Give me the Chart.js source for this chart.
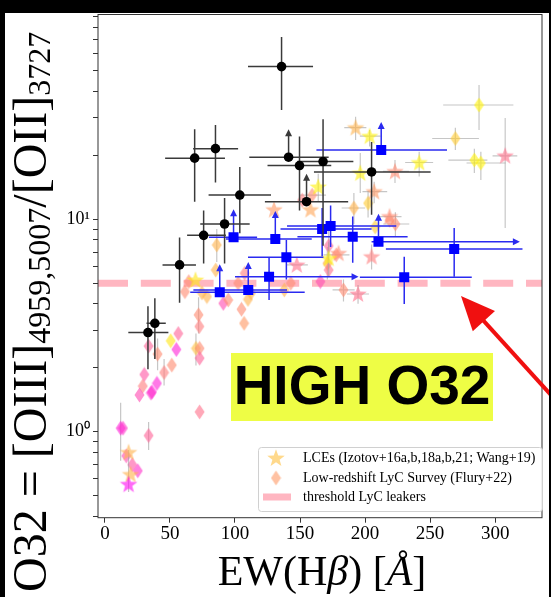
<!DOCTYPE html>
<html>
<head>
<meta charset="utf-8">
<script src="https://cdn.jsdelivr.net/npm/chart.js@4.4.1/dist/chart.umd.min.js"></script>
<style>
html, body { margin: 0; padding: 0; background: #fff; }
#wrap { position: relative; width: 551px; height: 597px; overflow: hidden; background: #fff; }
#c { position: absolute; left: 0; top: 0; }
.serif { position: absolute; font-family: "Liberation Serif", "Times New Roman", serif; color: #000; white-space: nowrap; }
#ytitle { left: -280px; top: 270px; width: 620px; height: 60px; line-height: 60px; font-size: 48px;
          transform: rotate(-90deg); padding-left: 18px; box-sizing: border-box; }
#ytitle .sub { font-size: 32px; line-height: 0; position: relative; top: 4px; }
#xtitle { left: 122px; top: 550px; width: 400px; text-align: center; font-size: 42px; line-height: 42px; }
#high { position: absolute; left: 231px; top: 353px; width: 262px; height: 68px; line-height: 68px;
        background: #eefd45; text-align: center; font: bold 55px "Liberation Sans", Arial, sans-serif; color: #000; }
.band { position: absolute; background: #000; }
</style>
</head>
<body>
<div id="wrap">
  <canvas id="c" width="551" height="597"></canvas>
  <div id="ytitle" class="serif">O32 = [OIII]<span class="sub">4959,5007</span>/[OII]<span class="sub">3727</span></div>
  <div id="xtitle" class="serif">EW(H<i>β</i>) [<i>Å</i>]</div>
  <div id="high">HIGH O32</div>
  <div class="band" style="left:0;top:0;width:551px;height:13px"></div>
  <div class="band" style="left:0;top:0;width:5px;height:597px"></div>
  <div class="band" style="left:549px;top:0;width:2px;height:597px"></div>
</div>
<script>
// axis ticks
const xTicks = [0, 50, 100, 150, 200, 250, 300];
const yTicks = [0.4, 0.5, 0.6, 0.7, 0.8, 0.9, 1, 2, 3, 4, 5, 6, 7, 8, 9, 10, 20, 30, 40, 50, 60, 70, 80, 90];
const threshold = 5;

// black circles
const blkX   = [135.8, 69, 85, 141.2, 149.6, 167.7, 205, 155, 103.7, 92, 75.9, 57.4, 38.4, 33.1];
const blkY   = [52.3, 19.4, 21.5, 19.6, 17.9, 18.7, 16.7, 12.1, 13.0, 9.5, 8.4, 6.1, 3.24, 2.93];
const blkXlo = [110, 46.3, 67.8, 111, 125, 148, 160.7, 123, 79.7, 73.3, 63.2, 44.3, 32, 18];
const blkXhi = [160, 92.3, 102.4, 172, 174, 191, 250.4, 187, 127.7, 111.3, 93, 70, 46.8, 48.8];
const blkYlo = [32.7, 12.1, 14.9, null, 11.0, 7.5, 10.5, null, 8.6, 6.2, 6.2, 4.05, 2.2, 1.97];
const blkYhi = [72, 26.5, 27.8, null, 24.5, 29.6, 23.1, null, 17.6, 12.6, 11, 8.2, 4.25, 3.9];
const blkUp  = [0, 0, 0, 1, 0, 0, 0, 1, 0, 0, 0, 0, 0, 0];

// blue squares
const bluX     = [212.4, 167, 173.5, 190.5, 210.3, 268.5, 230.1, 98.9, 131, 139.5, 126.2, 88.3, 110.2];
const bluY     = [21.2, 9.0, 9.3, 8.28, 7.83, 7.25, 5.33, 8.23, 8.07, 6.62, 5.37, 4.53, 4.65];
const bluXlo   = [162.6, 135, 140, 148, 205, 216, 196, 80, 93, 110, 100, 65.6, 68];
const bluXhi   = [263, 205, 224, 232.7, 319, 321, 282, 117, 159, 168, 195, 153.6, 140];
const bluYlo   = [null, 6.7, 7.4, 6.25, null, 5.36, 3.99, null, null, 5.2, 4.17, null, null];
const bluYhi   = [null, 11.3, 11.6, 10.3, null, 9.1, 6.67, null, null, 7.98, 6.62, null, null];
const bluUp    = [1, 0, 0, 0, 1, 0, 0, 1, 1, 0, 0, 1, 1];
const bluRight = [0, 0, 0, 0, 1, 0, 0, 0, 0, 0, 1, 0, 0];

// LCEs (stars); lceC = colour variable (1 yellow .. 0 magenta)
const lceX   = [192.7, 203.5, 241.6, 307.7, 223, 196.3, 207, 164, 158, 147.5, 205, 179.6, 172, 218.8, 194.6, 130, 69.6, 18.2, 19.7, 18.2];
const lceY   = [27.0, 24.6, 18.5, 19.9, 16.8, 16.5, 13.5, 14.2, 11.1, 6.1, 6.67, 6.92, 6.55, 10.3, 4.45, 11.1, 5.18, 0.80, 0.63, 0.566];
const lceC   = [0.7, 0.95, 0.95, 0.45, 0.55, 0.95, 0.6, 0.95, 0.65, 0.45, 0.5, 0.55, 0.95, 0.55, 0.45, 0.6, 0.9, 0.7, 0.7, 0.05];
const lceXlo = [184, 196, 230.8, 298, 213.7, null, 198, null, null, 140, null, null, null, 210, 186, null, null, null, null, null];
const lceXhi = [201, 212, 252.3, 317, 233.7, null, 217, null, null, 156, null, null, null, 228, 203, null, null, null, null, null];
const lceYlo = [23.6, 22.0, 15.9, 9.1, 14.8, 13.3, 11.9, 12.2, null, null, 5.8, null, 5.4, null, 4.0, null, null, 0.52, null, null];
const lceYhi = [30.4, 26.3, 20.8, 30, 19, 20.5, 15, 16.4, null, null, 7.6, null, 7.8, null, 4.9, null, null, 0.82, null, null];

// Flury+22 (diamonds)
const lzX = [287.6, 269.4, 284, 289, 191.4, 202.3, 159.3, 151.7, 223.3, 218.9, 207.7, 172, 177.8, 171, 172, 165.6, 142.9, 137.9, 183.4,
             86, 85.2, 107.5, 102.4, 64.5, 61.5, 74.6, 78.4, 91, 94.8, 110, 112.3, 105, 107, 72, 72.6, 70, 72.8, 72.8, 72.8,
             56.4, 50.6, 54.9, 40.5, 33.6, 51.4, 45.5, 40, 36.2, 30.3, 29.1, 26.6, 35.4, 12.1, 13.9, 33.6, 16.4, 21, 25.3];
const lzY = [34.5, 24, 19, 18.4, 11.3, 11.9, 13.0, 12.3, 9.5, 9.9, 9.2, 7.5, 6.8, 6.2, 5.77, 5.09, 5.0, 4.65, 4.65,
             7.57, 5.77, 5.57, 5.0, 5.09, 4.56, 4.5, 4.33, 4.02, 4.17, 4.2, 4.5, 3.77, 3.24, 3.55, 3.13, 2.47, 2.47, 2.22, 1.24,
             2.9, 2.68, 2.44, 2.32, 2.53, 2.06, 1.9, 1.69, 1.54, 1.86, 1.64, 1.49, 1.52, 1.04, 1.04, 0.96, 0.77, 0.70, 0.655];
const lzC = [0.95, 0.8, 0.95, 0.95, 0.7, 0.8, 0.55, 0.5, 0.55, 0.55, 0.8, 0.4, 0.55, 0.65, 0.45, 0.3, 0.55, 0.7, 0.55,
             0.7, 0.7, 0.5, 0.55, 0.55, 0.55, 0.7, 0.7, 0.3, 0.55, 0.7, 0.7, 0.55, 0.6, 0.55, 0.5, 0.75, 0.55, 0.4, 0.45,
             0.4, 0.9, 0.15, 0.55, 0.4, 0.55, 0.5, 0.15, 0.15, 0.35, 0.5, 0.3, 0.2, 0.15, 0.2, 0.4, 0.3, 0.35, 0.2];
const lzXlo = [260, 251.6, 264, 278, 182, null, 150, null, 214, null, null, null, 168, null, null, null, null, null, 175,
               null, null, null, null, null, null, null, null, null, null, null, null, null, null, null, null, null, null, null, null,
               null, null, null, null, null, null, null, null, null, null, null, null, null, null, null, null, null, null, null];
const lzXhi = [314, 287.5, 294, 308, 200, null, 170, null, 234, null, null, null, 188, null, null, null, null, null, 192,
               null, null, null, null, null, null, null, null, null, null, null, null, null, null, null, null, null, null, null, null,
               null, null, null, null, null, null, null, null, null, null, null, null, null, null, null, null, null, null, null];
const lzYlo = [26.3, 21.2, 16.5, 15.3, 9.5, 10.2, null, null, 8.3, null, null, 6.4, null, 5.2, null, null, null, null, 4.1,
               6.3, null, null, null, null, null, null, null, null, null, null, null, null, null, 2.9, null, 2.05, null, null, null,
               null, null, null, 1.95, null, null, 1.65, null, null, null, null, null, null, 0.73, null, 0.82, null, null, null];
const lzYhi = [42.8, 27, 21.5, 20.8, 13.3, 13.6, null, null, 10.8, null, null, 8.8, null, 7.4, null, null, null, null, 5.2,
               9.0, null, null, null, null, null, null, null, null, null, null, null, null, null, 4.3, null, 2.9, null, null, null,
               null, null, null, 2.75, null, null, 2.2, null, null, null, null, null, null, 1.37, null, 1.11, null, null, null];

const XMIN = -5.3, XMAX = 336, YMIN = 0.394, YMAX = 92;

function spring(g, a) {
  return 'rgba(255,' + Math.round(255 * g) + ',' + Math.round(255 * (1 - g)) + ',' + a + ')';
}

function starImg(col) {
  const c = document.createElement('canvas');
  c.width = 20; c.height = 20;
  const g = c.getContext('2d');
  g.fillStyle = col;
  g.beginPath();
  for (let k = 0; k < 10; k++) {
    const r = k % 2 ? 3.8 : 9.2;
    const t = -Math.PI / 2 + k * Math.PI / 5;
    g.lineTo(10 + r * Math.cos(t), 10.5 + r * Math.sin(t));
  }
  g.closePath();
  g.fill();
  return c;
}

function diamondImg(col) {
  const c = document.createElement('canvas');
  c.width = 11; c.height = 16;
  const g = c.getContext('2d');
  g.fillStyle = col;
  g.beginPath();
  g.moveTo(5.5, 0.5); g.lineTo(10.5, 8); g.lineTo(5.5, 15.5); g.lineTo(0.5, 8);
  g.closePath();
  g.fill();
  return c;
}

function pts(xs, ys) { return xs.map((x, i) => ({ x: x, y: ys[i] })); }

const ALPHA = 0.62;

const errPlugin = {
  id: 'errbars',
  beforeDatasetDraw(chart, args) {
    const ds = chart.data.datasets[args.index];
    const e = ds.err;
    if (!e) return;
    const xs = chart.scales.x, ys = chart.scales.y, ctx = chart.ctx, a = chart.chartArea;
    ctx.save();
    ctx.beginPath();
    ctx.rect(a.left, a.top, a.right - a.left, a.bottom - a.top);
    ctx.clip();
    ctx.strokeStyle = e.color;
    ctx.fillStyle = e.color;
    ctx.lineWidth = e.width;
    ds.data.forEach((p, i) => {
      const px = xs.getPixelForValue(p.x), py = ys.getPixelForValue(p.y);
      ctx.beginPath();
      if (e.xlo[i] != null) {
        ctx.moveTo(xs.getPixelForValue(e.xlo[i]), py);
        ctx.lineTo(xs.getPixelForValue(e.xhi[i]) - (e.right && e.right[i] ? 6 : 0), py);
      }
      if (e.ylo[i] != null) {
        ctx.moveTo(px, ys.getPixelForValue(e.ylo[i]));
        ctx.lineTo(px, ys.getPixelForValue(e.yhi[i]));
      }
      if (e.up && e.up[i]) {
        ctx.moveTo(px, py);
        ctx.lineTo(px, py - 22);
      }
      ctx.stroke();
      if (e.up && e.up[i]) {
        ctx.beginPath();
        ctx.moveTo(px, py - 28); ctx.lineTo(px + 3.5, py - 21); ctx.lineTo(px - 3.5, py - 21);
        ctx.closePath(); ctx.fill();
      }
      if (e.right && e.right[i]) {
        const hx = xs.getPixelForValue(e.xhi[i]);
        ctx.beginPath();
        ctx.moveTo(hx, py); ctx.lineTo(hx - 7, py - 3.5); ctx.lineTo(hx - 7, py + 3.5);
        ctx.closePath(); ctx.fill();
      }
    });
    ctx.restore();
  }
};

const decorPlugin = {
  id: 'decor',
  afterDraw(chart) {
    const ctx = chart.ctx, a = chart.chartArea;
    // frame
    ctx.save();
    ctx.strokeStyle = '#333';
    ctx.lineWidth = 1;
    ctx.strokeRect(a.left, a.top, a.right - a.left, a.bottom - a.top);
    ctx.restore();

    // legend
    ctx.save();
    const lx = 258, ly = 447, lw = 284, lh = 64;
    ctx.fillStyle = 'rgba(255,255,255,0.85)';
    ctx.strokeStyle = '#d0d0d0';
    ctx.lineWidth = 1;
    ctx.beginPath();
    ctx.roundRect(lx + 0.5, ly + 0.5, lw, lh, 3);
    ctx.fill(); ctx.stroke();
    const s = starImg(spring(0.75, 0.6));
    ctx.drawImage(s, 276 - 10, 458 - 10);
    const d = diamondImg(spring(0.6, 0.6));
    ctx.drawImage(d, 276 - 5.5, 478 - 8);
    ctx.fillStyle = '#ffb6c1';
    ctx.fillRect(263, 493.5, 28, 7);
    ctx.fillStyle = '#000';
    ctx.font = '14px "Liberation Serif", "Times New Roman", serif';
    ctx.textBaseline = 'middle';
    ctx.fillText('LCEs (Izotov+16a,b,18a,b,21; Wang+19)', 303, 458);
    ctx.fillText('Low-redshift LyC Survey (Flury+22)', 303, 478);
    ctx.fillText('threshold LyC leakers', 303, 497);
    ctx.restore();

    // red arrow
    ctx.save();
    const tip = [461, 296], tail = [562, 407];
    const dx = tip[0] - tail[0], dy = tip[1] - tail[1], L = Math.hypot(dx, dy);
    const ux = dx / L, uy = dy / L, hl = 34, hw = 15;
    const bx = tip[0] - ux * hl, by = tip[1] - uy * hl;
    ctx.strokeStyle = '#f01010';
    ctx.fillStyle = '#f01010';
    ctx.lineWidth = 4;
    ctx.beginPath(); ctx.moveTo(tail[0], tail[1]); ctx.lineTo(bx + ux * 4, by + uy * 4); ctx.stroke();
    ctx.beginPath();
    ctx.moveTo(tip[0], tip[1]);
    ctx.lineTo(bx - uy * hw, by + ux * hw);
    ctx.lineTo(bx + uy * hw, by - ux * hw);
    ctx.closePath(); ctx.fill();
    ctx.restore();
  }
};

const chart = new Chart(document.getElementById('c').getContext('2d'), {
  type: 'scatter',
  data: {
    datasets: [
      {
        label: 'threshold LyC leakers',
        type: 'line',
        data: [{ x: XMIN, y: threshold }, { x: XMAX, y: threshold }],
        borderColor: '#ffb6c1',
        borderWidth: 7,
        borderDash: [30, 12.8],
        borderCapStyle: 'butt',
        pointRadius: 0,
        order: 5
      },
      {
        label: 'Low-redshift LyC Survey (Flury+22)',
        data: pts(lzX, lzY),
        pointStyle: lzC.map(g => diamondImg(spring(g, ALPHA))),
        pointRadius: 6,
        err: { xlo: lzXlo, xhi: lzXhi, ylo: lzYlo, yhi: lzYhi, color: 'rgba(160,160,160,0.6)', width: 1.2 },
        order: 4
      },
      {
        label: 'LCEs (Izotov+16a,b,18a,b,21; Wang+19)',
        data: pts(lceX, lceY),
        pointStyle: lceC.map(g => starImg(spring(g, ALPHA))),
        pointRadius: 8,
        err: { xlo: lceXlo, xhi: lceXhi, ylo: lceYlo, yhi: lceYhi, color: 'rgba(160,160,160,0.6)', width: 1.2 },
        order: 3
      },
      {
        label: 'blue',
        data: pts(bluX, bluY),
        pointStyle: 'rect',
        pointRadius: 7.1,
        backgroundColor: '#0000ff',
        borderColor: '#0000ff',
        borderWidth: 0,
        err: { xlo: bluXlo, xhi: bluXhi, ylo: bluYlo, yhi: bluYhi, up: bluUp, right: bluRight, color: '#2a2af0', width: 1.5 },
        order: 2
      },
      {
        label: 'black',
        data: pts(blkX, blkY),
        pointStyle: 'circle',
        pointRadius: 4.8,
        backgroundColor: '#000',
        borderColor: '#000',
        borderWidth: 0,
        err: { xlo: blkXlo, xhi: blkXhi, ylo: blkYlo, yhi: blkYhi, up: blkUp, color: '#3a3a3a', width: 1.5 },
        order: 1
      }
    ]
  },
  options: {
    responsive: false,
    animation: false,
    events: [],
    layout: { padding: { top: 14.5, right: 3, left: 0, bottom: 0 } },
    plugins: { legend: { display: false }, tooltip: { enabled: false } },
    scales: {
      x: {
        type: 'linear',
        min: XMIN, max: XMAX,
        afterBuildTicks: s => { s.ticks = xTicks.map(v => ({ value: v })); },
        afterFit: s => { s.height = 79.3; },
        ticks: { color: '#000', padding: 0, font: { family: '"Liberation Serif", "Times New Roman", serif', size: 19 } },
        grid: { drawOnChartArea: false, tickLength: 5, tickColor: '#333' },
        border: { display: false }
      },
      y: {
        type: 'logarithmic',
        min: YMIN, max: YMAX,
        afterBuildTicks: s => { s.ticks = yTicks.map(v => ({ value: v, major: v === 1 || v === 10 })); },
        afterFit: s => { s.width = 98; },
        ticks: {
          color: '#000', padding: 3, autoSkip: false,
          font: { family: '"Liberation Serif", "Times New Roman", serif', size: 18 },
          callback: v => (v === 1 ? '10\u2070' : v === 10 ? '10\u00b9' : '')
        },
        grid: { drawOnChartArea: false, tickLength: 5, tickColor: '#333' },
        border: { display: false }
      }
    }
  },
  plugins: [errPlugin, decorPlugin]
});
</script>
</body>
</html>
